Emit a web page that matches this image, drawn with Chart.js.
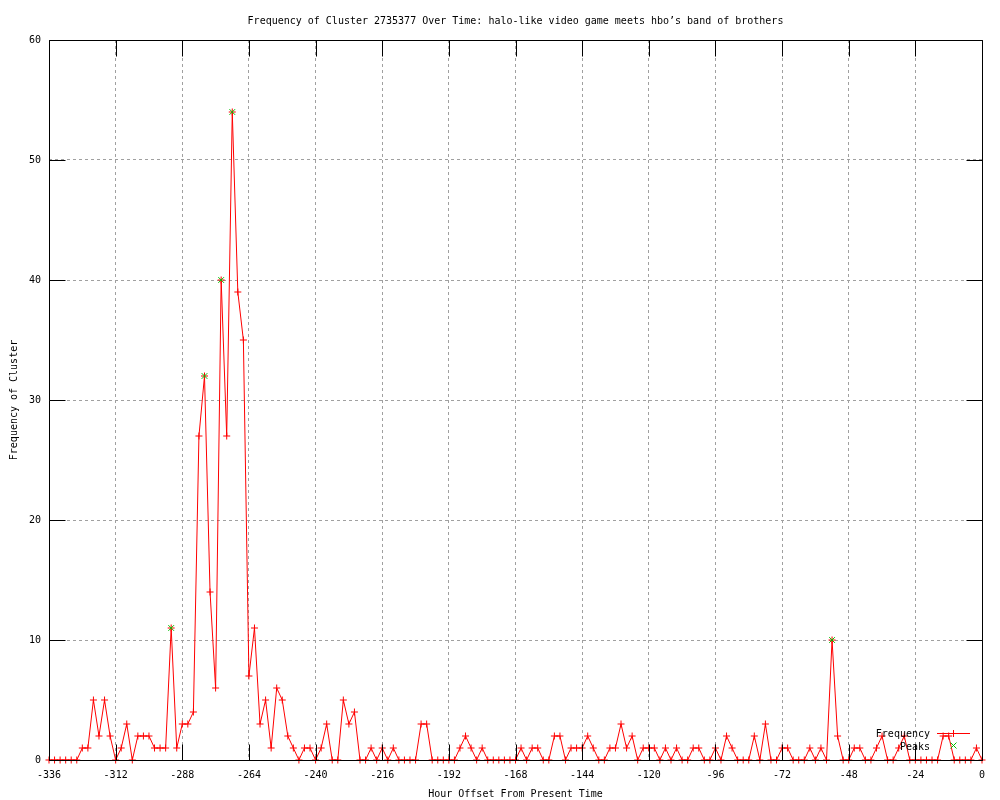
<!DOCTYPE html>
<html>
<head>
<meta charset="utf-8">
<script src="https://cdn.jsdelivr.net/npm/chart.js@4"></script>
<style>
html,body{margin:0;padding:0;background:#fff;}
#wrap{width:1000px;height:800px;}
canvas{display:block;}
</style>
</head>
<body>
<div id="wrap"><canvas id="c" width="1000" height="800"></canvas></div>
<script>
// ---- data ----
const chartTitle = "Frequency of Cluster 2735377 Over Time: halo-like video game meets hbo\u2019s band of brothers";
const xAxisTitle = "Hour Offset From Present Time";
const yAxisTitle = "Frequency of Cluster";

const hours = [
 -336,-334,-332,-330,-328,-326,-324,-322,-320,-318,-316,-314,-312,-310,-308,-306,-304,-302,-300,-298,
 -296,-294,-292,-290,-288,-286,-284,-282,-280,-278,-276,-274,-272,-270,-268,-266,-264,-262,-260,-258,
 -256,-254,-252,-250,-248,-246,-244,-242,-240,-238,-236,-234,-232,-230,-228,-226,-224,-222,-220,-218,
 -216,-214,-212,-210,-208,-206,-204,-202,-200,-198,-196,-194,-192,-190,-188,-186,-184,-182,-180,-178,
 -176,-174,-172,-170,-168,-166,-164,-162,-160,-158,-156,-154,-152,-150,-148,-146,-144,-142,-140,-138,
 -136,-134,-132,-130,-128,-126,-124,-122,-120,-118,-116,-114,-112,-110,-108,-106,-104,-102,-100,-98,
 -96,-94,-92,-90,-88,-86,-84,-82,-80,-78,-76,-74,-72,-70,-68,-66,-64,-62,-60,-58,
 -56,-54,-52,-50,-48,-46,-44,-42,-40,-38,-36,-34,-32,-30,-28,-26,-24,-22,-20,-18,
 -16,-14,-12,-10,-8,-6,-4,-2,0
];

const frequency = [
 0,0,0,0,0,0,1,1,5,2,5,2,0,1,3,0,2,2,2,1,
 1,1,11,1,3,3,4,27,32,14,6,40,27,54,39,35,7,11,3,5,
 1,6,5,2,1,0,1,1,0,1,3,0,0,5,3,4,0,0,1,0,
 1,0,1,0,0,0,0,3,3,0,0,0,0,0,1,2,1,0,1,0,
 0,0,0,0,0,1,0,1,1,0,0,2,2,0,1,1,1,2,1,0,
 0,1,1,3,1,2,0,1,1,1,0,1,0,1,0,0,1,1,0,0,
 1,0,2,1,0,0,0,2,0,3,0,0,1,1,0,0,0,1,0,1,
 0,10,2,0,0,1,1,0,0,1,2,0,0,1,2,0,0,0,0,0,
 0,2,2,0,0,0,0,1,0
];

const peakHours  = [-292, -280, -274, -270, -54];
const peakValues = [11, 32, 40, 54, 10];

const xTickValues = [-336,-312,-288,-264,-240,-216,-192,-168,-144,-120,-96,-72,-48,-24,0];
const xTickLabels = ["-336","-312","-288","-264","-240","-216","-192","-168","-144","-120","-96","-72","-48","-24","0"];
const yTickValues = [0,10,20,30,40,50,60];
const yTickLabels = ["0","10","20","30","40","50","60"];

const legendLabels = ["Frequency", "Peaks"];

// ---- styling ----
const FONT_FAMILY = '"DejaVu Sans Mono", "Liberation Mono", monospace';
const FONT_SIZE = 10;
const RED = '#ff0000';
const GREEN = '#00c000';
const GRID = '#a0a0a0';
const TICK_LEN = 16;

const decorPlugin = {
  id: 'decor',
  afterDatasetsDraw(chart) {
    const ctx = chart.ctx;
    const a = chart.chartArea;
    const xs = chart.scales.x, ys = chart.scales.y;
    const L = Math.round(a.left) + 0.5, R = Math.round(a.right) + 0.5;
    const T = Math.round(a.top) + 0.5, B = Math.round(a.bottom) + 0.5;
    ctx.save();
    ctx.strokeStyle = '#000';
    ctx.lineWidth = 1;
    ctx.setLineDash([]);
    ctx.beginPath();
    ctx.rect(L, T, R - L, B - T);
    // inward tick marks (mirrored)
    xTickValues.forEach(v => {
      const px = Math.round(xs.getPixelForValue(v)) + 0.5;
      ctx.moveTo(px, B); ctx.lineTo(px, B - TICK_LEN);
      ctx.moveTo(px, T); ctx.lineTo(px, T + TICK_LEN);
    });
    yTickValues.forEach(v => {
      const py = Math.round(ys.getPixelForValue(v)) + 0.5;
      ctx.moveTo(L, py); ctx.lineTo(L + TICK_LEN, py);
      ctx.moveTo(R, py); ctx.lineTo(R - TICK_LEN, py);
    });
    ctx.stroke();

    // texts
    ctx.fillStyle = '#000';
    ctx.font = FONT_SIZE + 'px ' + FONT_FAMILY;
    ctx.textBaseline = 'alphabetic';
    ctx.textAlign = 'center';
    ctx.fillText(chartTitle, (a.left + a.right) / 2, 24);
    ctx.fillText(xAxisTitle, (a.left + a.right) / 2, 797);
    ctx.save();
    ctx.translate(17, (a.top + a.bottom) / 2);
    ctx.rotate(-Math.PI / 2);
    ctx.fillText(yAxisTitle, 0, 0);
    ctx.restore();

    // legend
    ctx.textAlign = 'right';
    ctx.fillText(legendLabels[0], 930, 737);
    ctx.fillText(legendLabels[1], 930, 750);
    ctx.strokeStyle = RED;
    ctx.beginPath();
    ctx.moveTo(937, 733.5); ctx.lineTo(970, 733.5);
    ctx.moveTo(953.5, 730); ctx.lineTo(953.5, 737);
    ctx.stroke();
    ctx.strokeStyle = GREEN;
    ctx.beginPath();
    ctx.moveTo(950.5, 742.5); ctx.lineTo(956.5, 748.5);
    ctx.moveTo(956.5, 742.5); ctx.lineTo(950.5, 748.5);
    ctx.stroke();
    ctx.restore();
  }
};

const ctx = document.getElementById('c').getContext('2d');
new Chart(ctx, {
  type: 'line',
  data: {
    datasets: [
      {
        label: legendLabels[0],
        data: hours.map((h, i) => ({x: h, y: frequency[i]})),
        borderColor: RED,
        backgroundColor: RED,
        borderWidth: 1,
        pointStyle: 'cross',
        pointRadius: 3.5,
        pointBorderColor: RED,
        pointBorderWidth: 1,
        pointHoverRadius: 3.5,
        tension: 0,
        fill: false,
        clip: false,
        order: 1
      },
      {
        label: legendLabels[1],
        data: peakHours.map((h, i) => ({x: h, y: peakValues[i]})),
        showLine: false,
        borderColor: GREEN,
        backgroundColor: GREEN,
        pointStyle: 'crossRot',
        pointRadius: 4,
        pointBorderColor: GREEN,
        pointBorderWidth: 1,
        pointHoverRadius: 4,
        clip: false,
        order: 0
      }
    ]
  },
  options: {
    responsive: false,
    animation: false,
    devicePixelRatio: 1,
    events: [],
    layout: { padding: { top: 40, right: 18, left: 0, bottom: 0 } },
    plugins: {
      legend: { display: false },
      title: { display: false },
      tooltip: { enabled: false }
    },
    scales: {
      x: {
        type: 'linear',
        min: -336,
        max: 0,
        afterBuildTicks: s => { s.ticks = xTickValues.map(v => ({value: v})); },
        afterFit: s => { s.height = 40; s.paddingLeft = 0; s.paddingRight = 0; },
        ticks: {
          autoSkip: false,
          maxRotation: 0,
          minRotation: 0,
          padding: 9,
          color: '#000',
          font: { family: FONT_FAMILY, size: FONT_SIZE },
          callback: (v) => { const k = xTickValues.indexOf(v); return k >= 0 ? xTickLabels[k] : ''; }
        },
        grid: { color: GRID, lineWidth: 1, drawTicks: false },
        border: { display: false, dash: [3, 3] }
      },
      y: {
        type: 'linear',
        min: 0,
        max: 60,
        afterBuildTicks: s => { s.ticks = yTickValues.map(v => ({value: v})); },
        afterFit: s => { s.width = 49; },
        ticks: {
          padding: 8,
          color: '#000',
          font: { family: FONT_FAMILY, size: FONT_SIZE },
          callback: (v) => { const k = yTickValues.indexOf(v); return k >= 0 ? yTickLabels[k] : ''; }
        },
        grid: { color: GRID, lineWidth: 1, drawTicks: false },
        border: { display: false, dash: [3, 3] }
      }
    }
  },
  plugins: [decorPlugin]
});
</script>
</body>
</html>
